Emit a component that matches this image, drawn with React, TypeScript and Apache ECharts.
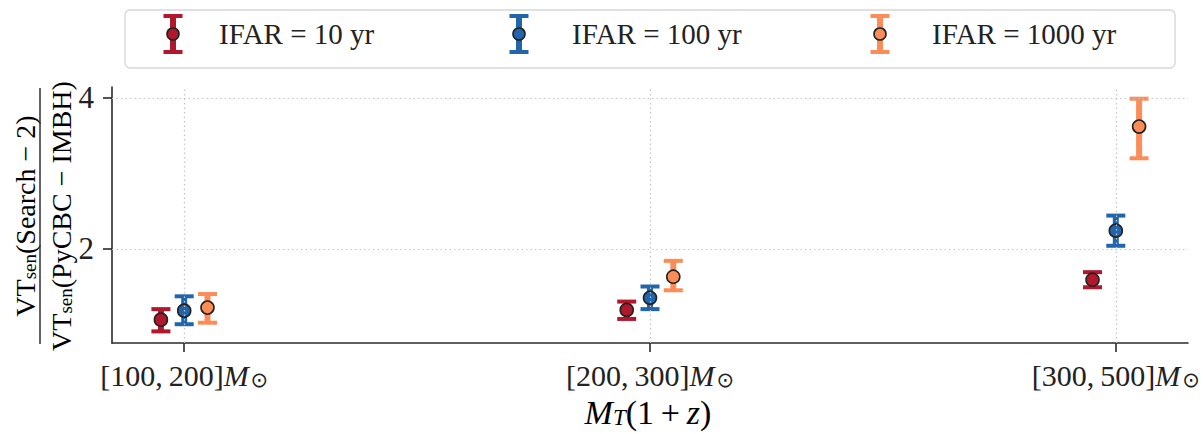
import React, { useEffect, useRef } from "react";
import * as echarts from "echarts";

// ---- data ----
const CATEGORIES = ["[100,\u2009200]", "[200,\u2009300]", "[300,\u2009500]"];
const SERIES_NAMES = ["IFAR = 10 yr", "IFAR = 100 yr", "IFAR = 1000 yr"];
const RATIO_10 = [1.06, 1.19, 1.59];
const LOW_10 = [0.905, 1.07, 1.49];
const HIGH_10 = [1.2, 1.3, 1.69];
const RATIO_100 = [1.18, 1.35, 2.24];
const LOW_100 = [1.0, 1.2, 2.04];
const HIGH_100 = [1.37, 1.5, 2.44];
const RATIO_1000 = [1.22, 1.63, 3.62];
const LOW_1000 = [1.02, 1.45, 3.2];
const HIGH_1000 = [1.4, 1.84, 3.99];
const Y_TICKS = [2, 4];

// ---- style ----
const COLORS = ["#b2182b", "#2166ac", "#fc8d59"];
const GROUP_OFFSET = [-0.05, 0, 0.05];
const SERIF = "'Liberation Serif', 'DejaVu Serif', serif";
const AXIS_COLOR = "#2a2a2a";

export default function App() {
  const ref = useRef<HTMLDivElement>(null);

  useEffect(() => {
    document.body.style.margin = "0";
    if (!ref.current) return;
    const chart = echarts.init(ref.current, null, { renderer: "svg" });

    const groups = [
      { name: SERIES_NAMES[0], v: RATIO_10, lo: LOW_10, hi: HIGH_10 },
      { name: SERIES_NAMES[1], v: RATIO_100, lo: LOW_100, hi: HIGH_100 },
      { name: SERIES_NAMES[2], v: RATIO_1000, lo: LOW_1000, hi: HIGH_1000 },
    ];

    const xIdx = CATEGORIES.map((_, i) => i);

    const series: any[] = [
      {
        type: "scatter",
        data: [],
        z: 0,
        silent: true,
        markLine: {
          silent: true,
          symbol: ["none", "none"],
          label: { show: false },
          lineStyle: { color: "#c4c4c4", type: [1.5, 3], width: 1.2 },
          data: [
            ...Y_TICKS.map((t) => ({ yAxis: t })),
            ...xIdx.map((i) => ({ xAxis: i })),
          ],
        },
      },
    ];

    groups.forEach((g, gi) => {
      const color = COLORS[gi];
      series.push({
        type: "custom",
        name: g.name,
        z: 2,
        data: g.v.map((v, i) => [i + GROUP_OFFSET[gi], v, g.lo[i], g.hi[i]]),
        encode: { x: 0, y: 1 },
        renderItem: (params: any, api: any) => {
          const x = api.value(0);
          const top = api.coord([x, api.value(3)]);
          const bot = api.coord([x, api.value(2)]);
          const hw = 9.5;
          return {
            type: "group",
            children: [
              {
                type: "line",
                shape: { x1: top[0], y1: top[1], x2: bot[0], y2: bot[1] },
                style: { stroke: color, lineWidth: 6 },
              },
              {
                type: "line",
                shape: { x1: top[0] - hw, y1: top[1], x2: top[0] + hw, y2: top[1] },
                style: { stroke: color, lineWidth: 4 },
              },
              {
                type: "line",
                shape: { x1: bot[0] - hw, y1: bot[1], x2: bot[0] + hw, y2: bot[1] },
                style: { stroke: color, lineWidth: 4 },
              },
            ],
          };
        },
      });
      series.push({
        type: "scatter",
        name: g.name,
        z: 3,
        symbol: "circle",
        symbolSize: 13,
        itemStyle: { color, borderColor: "#222222", borderWidth: 1.6, opacity: 1 },
        data: g.v.map((v, i) => [i + GROUP_OFFSET[gi], v]),
      });
    });

    const richTick = {
      n: { fontFamily: SERIF, fontSize: 30, color: "#222", lineHeight: 32, verticalAlign: "bottom" },
      m: { fontFamily: SERIF, fontSize: 30, fontStyle: "italic", color: "#222", lineHeight: 32, verticalAlign: "bottom" },
      o: { fontFamily: "'DejaVu Sans', sans-serif", fontSize: 21, color: "#222", lineHeight: 20, verticalAlign: "bottom", padding: [0, 0, 0, 2] },
    };

    const richMain = {
      r: { fontFamily: SERIF, fontSize: 28, color: "#222", lineHeight: 32, verticalAlign: "bottom" },
      s: { fontFamily: SERIF, fontSize: 19, color: "#222", lineHeight: 18, verticalAlign: "bottom" },
    };

    const richX = {
      i: { fontFamily: SERIF, fontSize: 34, fontStyle: "italic", color: "#222", lineHeight: 34, verticalAlign: "bottom" },
      r: { fontFamily: SERIF, fontSize: 34, color: "#222", lineHeight: 34, verticalAlign: "bottom" },
      s: { fontFamily: SERIF, fontSize: 23, fontStyle: "italic", color: "#222", lineHeight: 20, verticalAlign: "bottom" },
    };

    const legendX = [173, 519, 880];
    const legendTextX = [219, 572, 932];
    const legendY = 34;
    const legendChildren: any[] = [
      {
        type: "rect",
        shape: { x: 125, y: 10, width: 1050, height: 58, r: 5 },
        style: { fill: "#ffffff", stroke: "#d6d6d6", lineWidth: 1.3 },
      },
    ];
    SERIES_NAMES.forEach((name, i) => {
      const cx = legendX[i];
      const c = COLORS[i];
      legendChildren.push(
        { type: "line", shape: { x1: cx, y1: 16, x2: cx, y2: 52 }, style: { stroke: c, lineWidth: 6 } },
        { type: "line", shape: { x1: cx - 9.5, y1: 16, x2: cx + 9.5, y2: 16 }, style: { stroke: c, lineWidth: 4 } },
        { type: "line", shape: { x1: cx - 9.5, y1: 52, x2: cx + 9.5, y2: 52 }, style: { stroke: c, lineWidth: 4 } },
        { type: "circle", shape: { cx, cy: legendY, r: 6 }, style: { fill: c, stroke: "#222222", lineWidth: 1.6 } },
        {
          type: "text",
          x: legendTextX[i],
          y: legendY,
          style: { text: name, fontFamily: SERIF, fontSize: 29, fill: "#222", align: "left", verticalAlign: "middle" },
        }
      );
    });

    chart.setOption({
      animation: false,
      backgroundColor: "#ffffff",
      grid: { left: 112, right: 15, top: 87, bottom: 91, containLabel: false },
      xAxis: {
        type: "value",
        min: -0.155,
        max: 2.155,
        axisLine: { show: true, onZero: false, lineStyle: { color: AXIS_COLOR, width: 1.6 } },
        axisTick: { show: true, customValues: xIdx, length: 9, inside: false, lineStyle: { color: AXIS_COLOR, width: 1.6 } },
        axisLabel: {
          show: true,
          customValues: xIdx,
          margin: 15,
          formatter: (v: number) => `{n|${CATEGORIES[Math.round(v)]}}{m|M}{o|\u2299}`,
          rich: richTick,
          hideOverlap: false,
        },
        splitLine: { show: false },
      },
      yAxis: {
        type: "value",
        min: 0.751,
        max: 4.145,
        axisLine: { show: true, onZero: false, lineStyle: { color: AXIS_COLOR, width: 1.6 } },
        axisTick: { show: true, customValues: Y_TICKS, length: 9, inside: false, lineStyle: { color: AXIS_COLOR, width: 1.6 } },
        axisLabel: {
          show: true,
          customValues: Y_TICKS,
          margin: 18,
          fontFamily: SERIF,
          fontSize: 31,
          color: "#222",
          formatter: (v: number) => String(v),
        },
        splitLine: { show: false },
      },
      series,
      graphic: [
        { type: "group", children: legendChildren },
        {
          type: "group",
          x: 40,
          y: 216,
          rotation: Math.PI / 2,
          children: [
            {
              type: "text",
              x: 0,
              y: -17,
              style: {
                text: "{r|VT}{s|sen}{r|(Search \u2212 2)}",
                rich: richMain,
                align: "center",
                verticalAlign: "middle",
              },
            },
            {
              type: "line",
              shape: { x1: -128, y1: 0, x2: 128, y2: 0 },
              style: { stroke: "#222", lineWidth: 1.4 },
            },
            {
              type: "text",
              x: 0,
              y: 19,
              style: {
                text: "{r|VT}{s|sen}{r|(PyCBC \u2212 IMBH)}",
                rich: richMain,
                align: "center",
                verticalAlign: "middle",
              },
            },
          ],
        },
        {
          type: "text",
          x: 648,
          y: 412,
          style: {
            text: "{i|M}{s|T}{r|(1\u2009+\u2009}{i|z}{r|)}",
            rich: richX,
            align: "center",
            verticalAlign: "middle",
          },
        },
      ],
    });

    return () => chart.dispose();
  }, []);

  return <div ref={ref} style={{ width: 1203, height: 434 }} />;
}
